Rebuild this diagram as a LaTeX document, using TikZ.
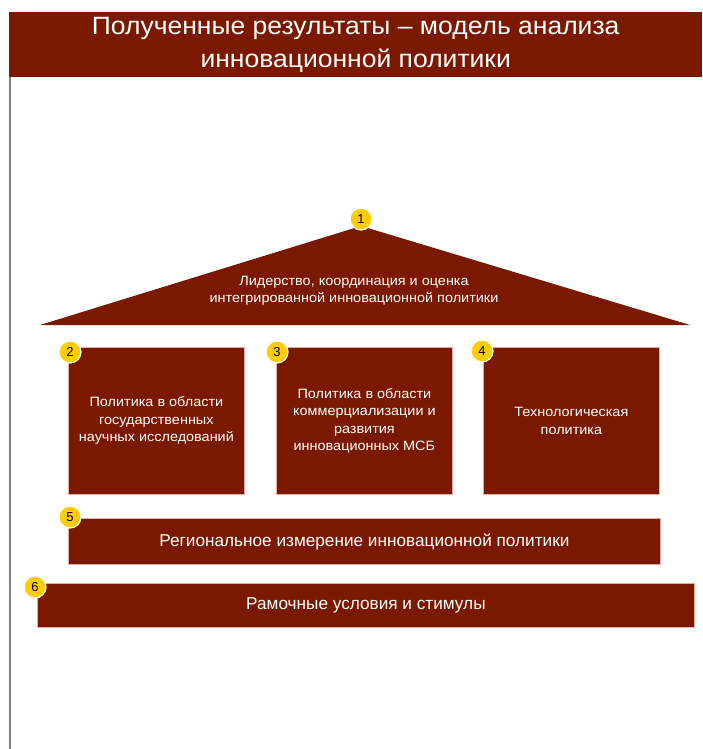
\documentclass[tikz,border=0pt]{standalone}
\usepackage{fontspec}
\setmainfont{Liberation Sans}
\newfontfamily\titlefont[FakeStretch=1.06]{Liberation Sans}
\newfontfamily\widefont[FakeStretch=1.07]{Liberation Sans}
\definecolor{dred}{RGB}{122,24,0}
\definecolor{badgeyellow}{RGB}{255,204,0}
\definecolor{edgepink}{RGB}{225,175,165}
\definecolor{linegray}{RGB}{130,130,130}
\begin{document}
\begin{tikzpicture}[x=1pt,y=-1pt,
  box/.style={fill=dred, draw=edgepink, line width=0.8pt, text=white, align=center, inner sep=0pt, anchor=north west},
  smalltext/.style={font=\widefont\fontsize{13.5}{17.5}\selectfont},
  bigtext/.style={font=\fontsize{17.2}{20}\selectfont},
  badge/.style={circle, fill=badgeyellow, draw=white, line width=1.2pt, minimum size=22pt, inner sep=0pt, text=black, font=\fontsize{13}{13}\selectfont}]
\useasboundingbox (0,0) rectangle (702,749);
\fill[white] (0,0) rectangle (702,749);
% title
\node[fill=dred, minimum width=693pt, minimum height=65pt, anchor=north west, inner sep=0pt, text=white, align=center, font=\titlefont\fontsize{25}{33}\selectfont] (title) at (9,12) {Полученные результаты – модель анализа\\инновационной политики};
\coordinate (vbottom) at (10,749);
\draw[linegray, line width=1.5pt] (title.south west -| vbottom) -- (vbottom);
% roof
\coordinate (apex) at (361,226);
\coordinate (roofleft) at (40,325);
\coordinate (roofright) at (690,325);
\fill[dred] (apex) -- (roofleft) -- (roofright) -- cycle;
\node[text=white, align=center, smalltext] (rooftext) at (354,291) {Лидерство, координация и оценка\\интегрированной инновационной политики};
\node[badge] (n1) at (361,219) {1};
% pillars
\node[box, smalltext, minimum width=176pt, minimum height=147pt] (b2) at (68,347) {Политика в области\\государственных\\научных исследований};
\node[box, smalltext, minimum width=176pt, minimum height=147pt] (b3) at (276,347) {Политика в области\\коммерциализации и\\развития\\инновационных МСБ};
\node[box, smalltext, minimum width=176pt, minimum height=147pt] (b4) at (483,347) {Технологическая\\политика};
\node[badge] (n2) at (70,352) {2};
\node[badge] (n3) at (277,352) {3};
\node[badge] (n4) at (482,351) {4};
% base layers
\node[box, bigtext, minimum width=592pt, minimum height=46pt] (b5) at (68,518) {Региональное измерение инновационной политики};
\node[box, bigtext, minimum width=657pt, minimum height=44pt] (b6) at (37,583) {Рамочные условия и стимулы};
\node[badge] (n5) at (70,517) {5};
\node[badge] (n6) at (35,587) {6};
\end{tikzpicture}
\end{document}
